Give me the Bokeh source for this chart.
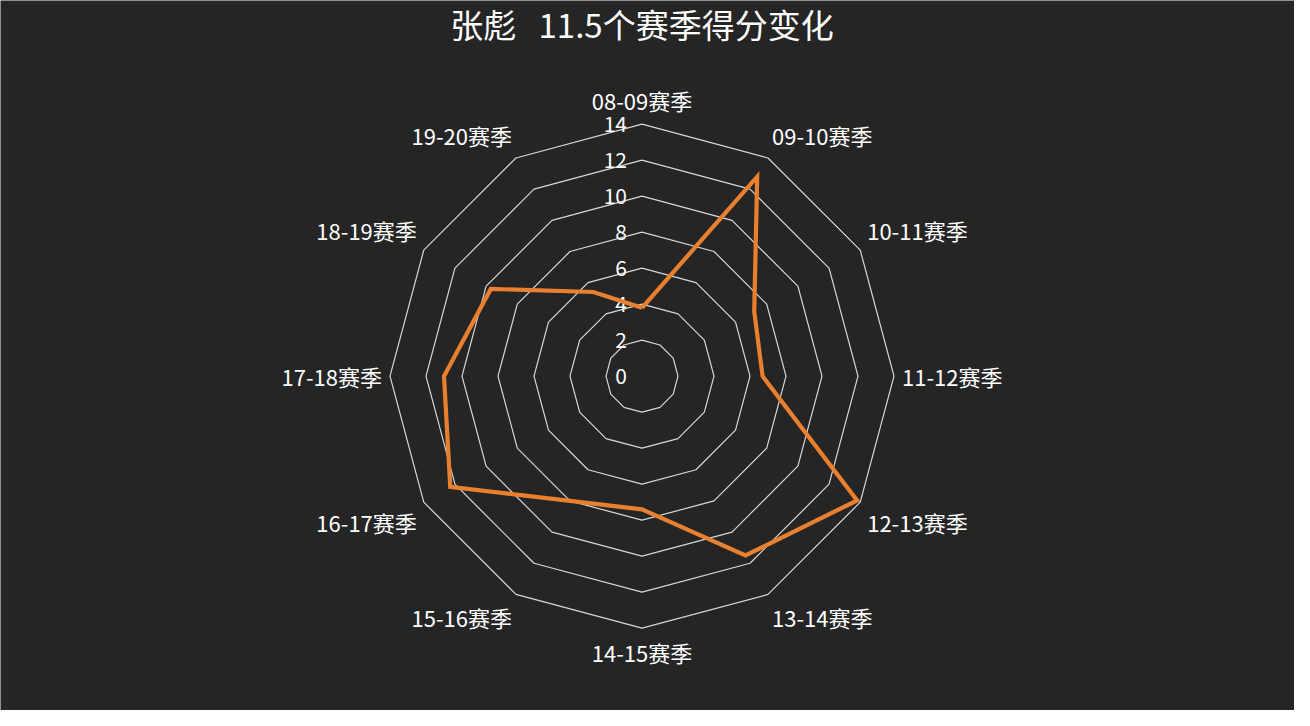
import numpy as np
from bokeh.plotting import figure
from bokeh.models import Range1d, ColumnDataSource
from bokeh.embed import file_html
from bokeh.resources import INLINE

# data
seasons = ["08-09赛季", "09-10赛季", "10-11赛季", "11-12赛季", "12-13赛季", "13-14赛季",
           "14-15赛季", "15-16赛季", "16-17赛季", "17-18赛季", "18-19赛季", "19-20赛季"]
points = [3.8, 12.8, 7.2, 6.7, 13.8, 11.5, 7.4, 8.0, 12.3, 11.0, 9.7, 5.4]
ring_levels = [2, 4, 6, 8, 10, 12, 14]
tick_labels = ["0", "2", "4", "6", "8", "10", "12", "14"]
title = "张彪\u00a0\u00a0\u00a011.5个赛季得分变化"

W, H = 1294, 710
px = 18.0            # pixels per score unit
cx, cy = 641.5, 375.7  # radar centre, pixels from top-left
FONT = "Noto Sans CJK SC"
BG = "#252525"

p = figure(width=W, height=H, output_backend="svg", toolbar_location=None,
           x_range=Range1d(-cx / px, (W - cx) / px),
           y_range=Range1d(-(H - cy) / px, cy / px),
           min_border=0, background_fill_color=BG, border_fill_color=BG)
p.axis.visible = False
p.grid.visible = False
p.outline_line_color = None

n = len(seasons)
ang = np.arange(n) * 2 * np.pi / n   # clockwise from top
sx, sy = np.sin(ang), np.cos(ang)

# polygon rings
for lv in ring_levels:
    xs = list(lv * sx) + [lv * sx[0]]
    ys = list(lv * sy) + [lv * sy[0]]
    p.line(xs, ys, line_color="#d8d8d8", line_width=1.2)

# radial tick labels along the top axis
p.text(x=[-15 / px] * len(tick_labels), y=[float(t) for t in tick_labels], text=tick_labels,
       text_align="right", text_baseline="middle", text_color="white",
       text_font_size="21px", text_font={"value": FONT})

# data polygon
vx = list(np.array(points) * sx) + [points[0] * sx[0]]
vy = list(np.array(points) * sy) + [points[0] * sy[0]]
p.line(vx, vy, line_color="#e8802f", line_width=4.2, line_join="miter")

# season names
R = 260 / px
lx, ly, al, bl = [], [], [], []
for i in range(n):
    lx.append(R * sx[i])
    ly.append(R * sy[i])
    al.append("left" if sx[i] > 0.01 else ("right" if sx[i] < -0.01 else "center"))
    bl.append("bottom" if sy[i] > 0.01 else ("top" if sy[i] < -0.01 else "middle"))
src = ColumnDataSource(dict(x=lx, y=ly, t=seasons, a=al, b=bl))
p.text(x="x", y="y", text="t", source=src, text_align="a", text_baseline="b",
       text_color="white", text_font_size="22px", text_font={"value": FONT})

# title
p.text(x=[0], y=[(cy - 23) / px], text=[title], text_align="center",
       text_baseline="middle", text_color="white", text_font_size="33px",
       text_font={"value": FONT})

open("out.html", "w").write(file_html(p, INLINE))
